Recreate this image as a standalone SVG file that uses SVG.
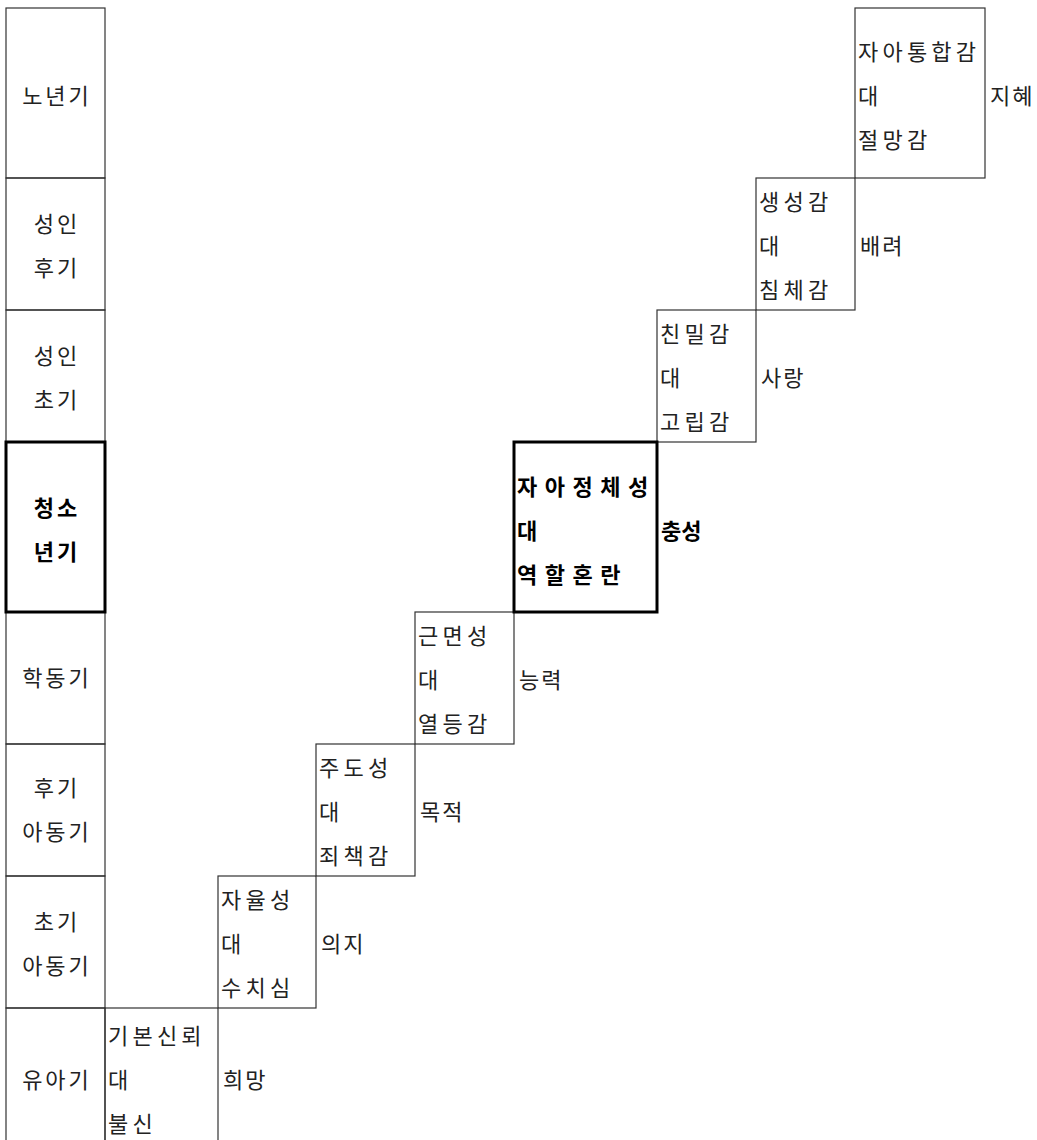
<svg xmlns="http://www.w3.org/2000/svg" width="1037" height="1140" viewBox="0 0 1037 1140">
<style>
.box{fill:none;stroke:#333;stroke-width:1.2}
.thick{fill:none;stroke:#000;stroke-width:3}
text{font-family:"Noto Sans CJK KR","Noto Sans",sans-serif;font-size:22px;fill:#222}
.lab{text-anchor:middle;letter-spacing:3px}
.st{letter-spacing:4.2px}
.sd{letter-spacing:2px}
.b{font-weight:bold;fill:#000}
</style>
<rect width="1037" height="1140" fill="#fff"/>
<g id="stage-labels">
<g id="age-old"><rect class="box" x="6" y="8" width="99" height="170"/><text class="lab" x="57" y="104">노년기</text></g>
<g id="age-late-adult"><rect class="box" x="6" y="178" width="99" height="132"/><text class="lab" x="57" y="232">성인</text><text class="lab" x="57" y="276">후기</text></g>
<g id="age-early-adult"><rect class="box" x="6" y="310" width="99" height="132"/><text class="lab" x="57" y="364">성인</text><text class="lab" x="57" y="408">초기</text></g>
<g id="age-school"><rect class="box" x="6" y="612" width="99" height="132"/><text class="lab" x="57" y="686">학동기</text></g>
<g id="age-late-child"><rect class="box" x="6" y="744" width="99" height="132"/><text class="lab" x="57" y="796">후기</text><text class="lab" x="57" y="840">아동기</text></g>
<g id="age-early-child"><rect class="box" x="6" y="876" width="99" height="132"/><text class="lab" x="57" y="930">초기</text><text class="lab" x="57" y="974">아동기</text></g>
<g id="age-infant"><rect class="box" x="6" y="1008" width="99" height="150"/><text class="lab" x="57" y="1088">유아기</text></g>
<g id="age-adolescent"><rect class="thick" x="6" y="442" width="99" height="170"/><text class="lab b" x="57" y="516" style="letter-spacing:3px">청소</text><text class="lab b" x="57" y="560" style="letter-spacing:3px">년기</text></g>
</g>
<g id="crisis-nodes">
<g id="stage1"><rect class="box" x="105" y="1008" width="113" height="150"/><text class="st" x="108" y="1044">기본신뢰</text><text class="st" x="108" y="1088">대</text><text class="st" x="108" y="1132">불신</text><text class="sd" x="223" y="1088">희망</text></g>
<g id="stage2"><rect class="box" x="218" y="876" width="98" height="132"/><text class="st" x="221" y="908">자율성</text><text class="st" x="221" y="952">대</text><text class="st" x="221" y="996">수치심</text><text class="sd" x="321" y="952">의지</text></g>
<g id="stage3"><rect class="box" x="316" y="744" width="99" height="132"/><text class="st" x="319" y="776">주도성</text><text class="st" x="319" y="820">대</text><text class="st" x="319" y="864">죄책감</text><text class="sd" x="420" y="820">목적</text></g>
<g id="stage4"><rect class="box" x="415" y="612" width="99" height="132"/><text class="st" x="418" y="644">근면성</text><text class="st" x="418" y="688">대</text><text class="st" x="418" y="732">열등감</text><text class="sd" x="519" y="688">능력</text></g>
<g id="stage6"><rect class="box" x="657" y="310" width="99" height="132"/><text class="st" x="660" y="342">친밀감</text><text class="st" x="660" y="386">대</text><text class="st" x="660" y="430">고립감</text><text class="sd" x="761" y="386">사랑</text></g>
<g id="stage7"><rect class="box" x="756" y="178" width="99" height="132"/><text class="st" x="759" y="210">생성감</text><text class="st" x="759" y="254">대</text><text class="st" x="759" y="298">침체감</text><text class="sd" x="860" y="254">배려</text></g>
<g id="stage8"><rect class="box" x="855" y="8" width="130" height="170"/><text class="st" x="858" y="60">자아통합감</text><text class="st" x="858" y="104">대</text><text class="st" x="858" y="148">절망감</text><text class="sd" x="990" y="104">지혜</text></g>
<g id="stage5"><rect class="thick" x="514" y="442" width="143" height="170"/><text class="b" x="517" y="495" style="letter-spacing:7.5px">자아정체성</text><text class="b" x="517" y="539">대</text><text class="b" x="517" y="583" style="letter-spacing:7.5px">역할혼란</text><text class="b" x="661" y="539">충성</text></g>
</g>
<g id="connectors"></g>
</svg>
